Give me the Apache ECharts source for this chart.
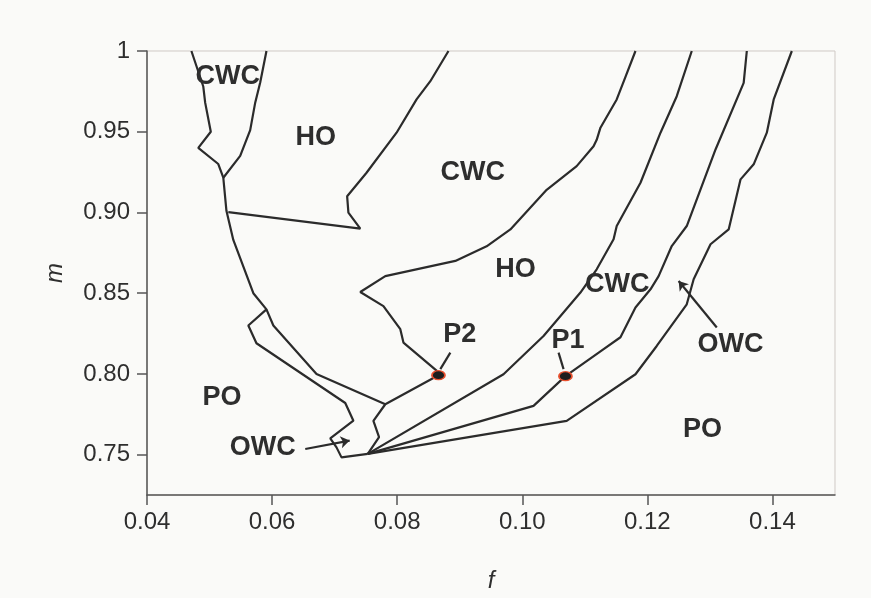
<!DOCTYPE html>
<html>
<head>
<meta charset="utf-8">
<script src="https://cdn.jsdelivr.net/npm/echarts@6/dist/echarts.min.js"></script>
<style>
html,body{margin:0;padding:0;background:#fafaf8;}
#c{width:871px;height:598px;}
</style>
</head>
<body>
<div id="c"></div>
<script>
// ---- data (f, m) ----
const xTicks = [0.04, 0.06, 0.08, 0.10, 0.12, 0.14];
const yTicks = [0.75, 0.80, 0.85, 0.90, 0.95, 1];
const yTickLabels = ['0.75', '0.80', '0.85', '0.90', '0.95', '1'];

// left boundary (PO) down to the convergence point
const boundaryLeft = [
  [0.0471, 1.000], [0.0490, 0.978], [0.0493, 0.968], [0.0502, 0.950], [0.0482, 0.940],
  [0.0514, 0.930], [0.0522, 0.9215], [0.0527, 0.901], [0.0538, 0.883], [0.0570, 0.850],
  [0.0591, 0.840], [0.0562, 0.830], [0.0575, 0.819], [0.0717, 0.782], [0.0730, 0.771],
  [0.0693, 0.760], [0.0703, 0.7545], [0.0711, 0.7483], [0.0753, 0.7505]
];
// right side of the top-left CWC pocket
const topCwcRight = [
  [0.0591, 1.000], [0.0581, 0.9805], [0.0573, 0.968], [0.0565, 0.951], [0.0549, 0.935], [0.0522, 0.9215]
];
// upper side of the small OWC strip
const owcStrip = [
  [0.0591, 0.840], [0.0602, 0.830], [0.0671, 0.800], [0.0781, 0.7812]
];
// lower HO boundary, through P2, up to the top
const hoLower = [
  [0.0753, 0.7505], [0.0771, 0.7608], [0.0762, 0.7709], [0.0781, 0.7812], [0.0866, 0.7992],
  [0.0863, 0.802], [0.0810, 0.8194], [0.0805, 0.8277], [0.0778, 0.842], [0.0741, 0.8507],
  [0.0781, 0.8606], [0.0893, 0.870], [0.0943, 0.879], [0.0981, 0.8895], [0.1039, 0.914],
  [0.1087, 0.9287], [0.1114, 0.941], [0.1119, 0.945], [0.1125, 0.9525], [0.1151, 0.970],
  [0.1165, 0.984], [0.1181, 1.000]
];
// upper HO pocket boundary
const hoUpper = [
  [0.0530, 0.9002], [0.0741, 0.8900], [0.0722, 0.8999], [0.0720, 0.910], [0.0751, 0.9246],
  [0.0799, 0.9494], [0.0831, 0.970], [0.0853, 0.9813], [0.0882, 1.000]
];
// HO / CWC boundary on the right
const lineHoCwc = [
  [0.0753, 0.7505], [0.0970, 0.7998], [0.1034, 0.8235], [0.1093, 0.8504], [0.1119, 0.8648],
  [0.1146, 0.8834], [0.1151, 0.8916], [0.1189, 0.9184], [0.1221, 0.9494], [0.1247, 0.972],
  [0.1271, 1.000]
];
// CWC / OWC boundary through P1
const lineCwcOwc = [
  [0.0753, 0.7505], [0.1018, 0.7802], [0.1069, 0.7986], [0.1125, 0.814], [0.1157, 0.8227],
  [0.1181, 0.8411], [0.1205, 0.8524], [0.1218, 0.8606], [0.1239, 0.8792], [0.1263, 0.8916],
  [0.1309, 0.939], [0.1354, 0.9803], [0.1359, 1.000]
];
// OWC / PO boundary
const lineOwcPo = [
  [0.0753, 0.7505], [0.1071, 0.7709], [0.1181, 0.7998], [0.1215, 0.8173], [0.1263, 0.8431],
  [0.1274, 0.8586], [0.1301, 0.8803], [0.1330, 0.8895], [0.1349, 0.9205], [0.1370, 0.9298],
  [0.1391, 0.9494], [0.1402, 0.970], [0.1431, 1.000]
];
const pointsP = [[0.0866, 0.7992], [0.1069, 0.7986]];
const regionLabels = [
  [0.0529, 0.9842, 'CWC'], [0.0670, 0.9465, 'HO'], [0.0921, 0.9248, 'CWC'],
  [0.0989, 0.8648, 'HO'], [0.1152, 0.8555, 'CWC'], [0.0900, 0.8246, 'P2'],
  [0.1073, 0.8209, 'P1'], [0.1333, 0.8184, 'OWC'], [0.1288, 0.7658, 'PO'],
  [0.0520, 0.7856, 'PO'], [0.0585, 0.7546, 'OWC']
];
const arrows = [
  [[0.0653, 0.7535], [0.0724, 0.7587]],
  [[0.1311, 0.8287], [0.1250, 0.8575]]
];
const pointers = [
  [[0.0885, 0.8132], [0.0869, 0.8030]],
  [[0.1058, 0.8132], [0.1066, 0.8030]]
];

const LINE = '#2b2b2b';
const TXT = '#2e2e2e';
const chart = echarts.init(document.getElementById('c'), null, {renderer: 'canvas'});
const curve = d => ({
  type: 'line', data: d, showSymbol: false, symbol: 'none', silent: true,
  lineStyle: {color: LINE, width: 2.2}, z: 3
});
chart.setOption({
  animation: false,
  backgroundColor: '#fafaf8',
  grid: {left: 147, right: 36, top: 51, bottom: 103, show: true, borderColor: '#cfc9c5', borderWidth: 1, backgroundColor: '#fafaf8'},
  xAxis: {
    type: 'value', min: 0.04, max: 0.15, interval: 0.02,
    name: 'f', nameLocation: 'middle', nameGap: 74,
    nameTextStyle: {fontFamily: 'Liberation Sans', fontStyle: 'italic', fontSize: 24, color: TXT},
    axisLine: {show: true, lineStyle: {color: '#555', width: 1.5}},
    axisTick: {show: true, length: 10, lineStyle: {color: '#555', width: 1.5}},
    axisLabel: {margin: 15, fontFamily: 'Liberation Sans', fontSize: 24, color: TXT,
      showMaxLabel: false, formatter: v => v.toFixed(2)},
    splitLine: {show: false}
  },
  yAxis: {
    type: 'value', min: 0.725, max: 1,
    name: 'm', nameLocation: 'middle', nameGap: 80, nameRotate: 90,
    nameTextStyle: {fontFamily: 'Liberation Sans', fontStyle: 'italic', fontSize: 24, color: TXT},
    axisLine: {show: true, lineStyle: {color: '#555', width: 1.5}},
    axisTick: {show: true, length: 10, customValues: yTicks, lineStyle: {color: '#555', width: 1.5}},
    axisLabel: {margin: 17, fontFamily: 'Liberation Sans', fontSize: 24, color: TXT,
      customValues: yTicks, formatter: v => yTickLabels[yTicks.findIndex(t => Math.abs(t - v) < 1e-6)] || ''},
    splitLine: {show: false}
  },
  series: [
    curve(boundaryLeft), curve(topCwcRight), curve(owcStrip), curve(hoLower),
    curve(hoUpper), curve(lineHoCwc), curve(lineCwcOwc), curve(lineOwcPo),
    {
      type: 'lines', coordinateSystem: 'cartesian2d', silent: true, z: 4,
      symbol: ['none', 'arrow'], symbolSize: 9,
      lineStyle: {color: LINE, width: 2.2, opacity: 1},
      data: arrows.map(a => ({coords: a}))
    },
    {
      type: 'lines', coordinateSystem: 'cartesian2d', silent: true, z: 4,
      symbol: ['none', 'none'],
      lineStyle: {color: LINE, width: 2.2, opacity: 1},
      data: pointers.map(a => ({coords: a}))
    },
    {
      type: 'scatter', data: pointsP, symbol: 'circle', symbolSize: [13, 9], z: 5, silent: true,
      itemStyle: {color: '#1e1e1e', borderColor: '#e8502e', borderWidth: 1.5, opacity: 1}
    },
    {
      type: 'scatter', symbolSize: 0, z: 6, silent: true,
      itemStyle: {opacity: 1},
      data: regionLabels.map(l => ({name: l[2], value: [l[0], l[1]]})),
      label: {show: true, position: 'inside', formatter: '{b}', fontFamily: 'Liberation Sans',
        fontWeight: 'bold', fontSize: 27, color: TXT}
    }
  ]
});
</script>
</body>
</html>
